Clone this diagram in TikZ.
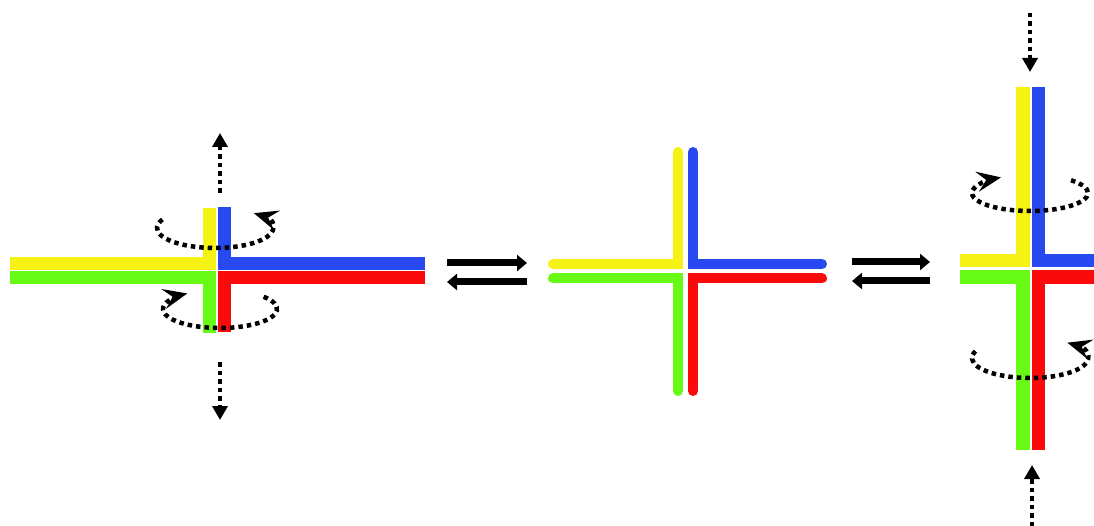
\documentclass[tikz,border=0pt]{standalone}
\usepackage{xcolor}
\usepackage{tikz}
\usetikzlibrary{arrows.meta}

\definecolor{armyellow}{RGB}{245,242,20}
\definecolor{armgreen}{RGB}{102,250,20}
\definecolor{armblue}{RGB}{40,72,240}
\definecolor{armred}{RGB}{250,10,10}

\tikzset{
  thick arm/.style={line width=13.5pt, line join=miter},
  thin arm/.style={line width=10pt, line cap=round, line join=miter},
  dots/.style={line width=4.5pt, dash pattern=on 4.5pt off 4pt},
  spin/.style={dots, -{Stealth[length=24pt,width=20pt,inset=9pt]}},
  pull/.style={dots, -{Triangle[length=14pt,width=15pt]}},
  equil/.style={line width=7pt, -{Triangle[length=10pt,width=16pt]}}
}

\begin{document}
\begin{tikzpicture}[x=1pt,y=-1pt]
  \useasboundingbox (0,0) rectangle (1094,526);

  % ---- left junction (pulled apart) ----
  \draw[thick arm, armyellow] (10,263.5) -- (209.5,263.5) -- (209.5,208);
  \draw[thick arm, armblue]   (425,263.5) -- (224.5,263.5) -- (224.5,207);
  \draw[thick arm, armgreen]  (10,277.5) -- (209.5,277.5) -- (209.5,333);
  \draw[thick arm, armred]    (425,277.5) -- (224.5,277.5) -- (224.5,332);

  % pulling and twisting
  \coordinate (lu0) at (220,193);  \coordinate (lu1) at (220,133);
  \coordinate (ld0) at (220,362);  \coordinate (ld1) at (220,420);
  \draw[pull] (lu0) -- (lu1);
  \draw[pull] (ld0) -- (ld1);
  \draw[spin] (215,228) ++(205:58 and 20) arc[start angle=205, end angle=-48, x radius=58, y radius=20];
  \draw[spin] (220,309) ++(-40:57 and 19) arc[start angle=-40, end angle=235, x radius=57, y radius=19];

  % ---- equilibrium arrows ----
  \coordinate (e1a) at (447,263);  \coordinate (e1b) at (527,263);
  \coordinate (e2a) at (447,282);  \coordinate (e2b) at (527,282);
  \draw[equil] (e1a) -- (e1b);
  \draw[equil] (e2b) -- (e2a);
  \coordinate (e3a) at (852,262);  \coordinate (e3b) at (930,262);
  \coordinate (e4a) at (852,281);  \coordinate (e4b) at (930,281);
  \draw[equil] (e3a) -- (e3b);
  \draw[equil] (e4b) -- (e4a);

  % ---- centre junction ----
  \draw[thin arm, armyellow] (553,264) -- (678,264) -- (678,152);
  \draw[thin arm, armblue]   (822,264) -- (693,264) -- (693,152);
  \draw[thin arm, armgreen]  (553,278.5) -- (678,278.5) -- (678,391);
  \draw[thin arm, armred]    (822,278.5) -- (693,278.5) -- (693,391);

  % ---- right junction (pushed together) ----
  \draw[thick arm, armyellow] (960,260.5) -- (1023,260.5) -- (1023,87);
  \draw[thick arm, armblue]   (1100,260.5) -- (1038.5,260.5) -- (1038.5,87);
  \draw[thick arm, armgreen]  (960,277) -- (1023,277) -- (1023,450);
  \draw[thick arm, armred]    (1100,277) -- (1038.5,277) -- (1038.5,450);

  \coordinate (ru0) at (1030,13);   \coordinate (ru1) at (1030,72);
  \coordinate (rd0) at (1032,526);  \coordinate (rd1) at (1032,465);
  \draw[pull] (ru0) -- (ru1);
  \draw[pull] (rd0) -- (rd1);
  \draw[spin] (1030,193) ++(-45:58 and 18) arc[start angle=-45, end angle=240, x radius=58, y radius=18];
  \draw[spin] (1030,358) ++(200:58 and 20) arc[start angle=200, end angle=-50, x radius=58, y radius=20];
\end{tikzpicture}
\end{document}
